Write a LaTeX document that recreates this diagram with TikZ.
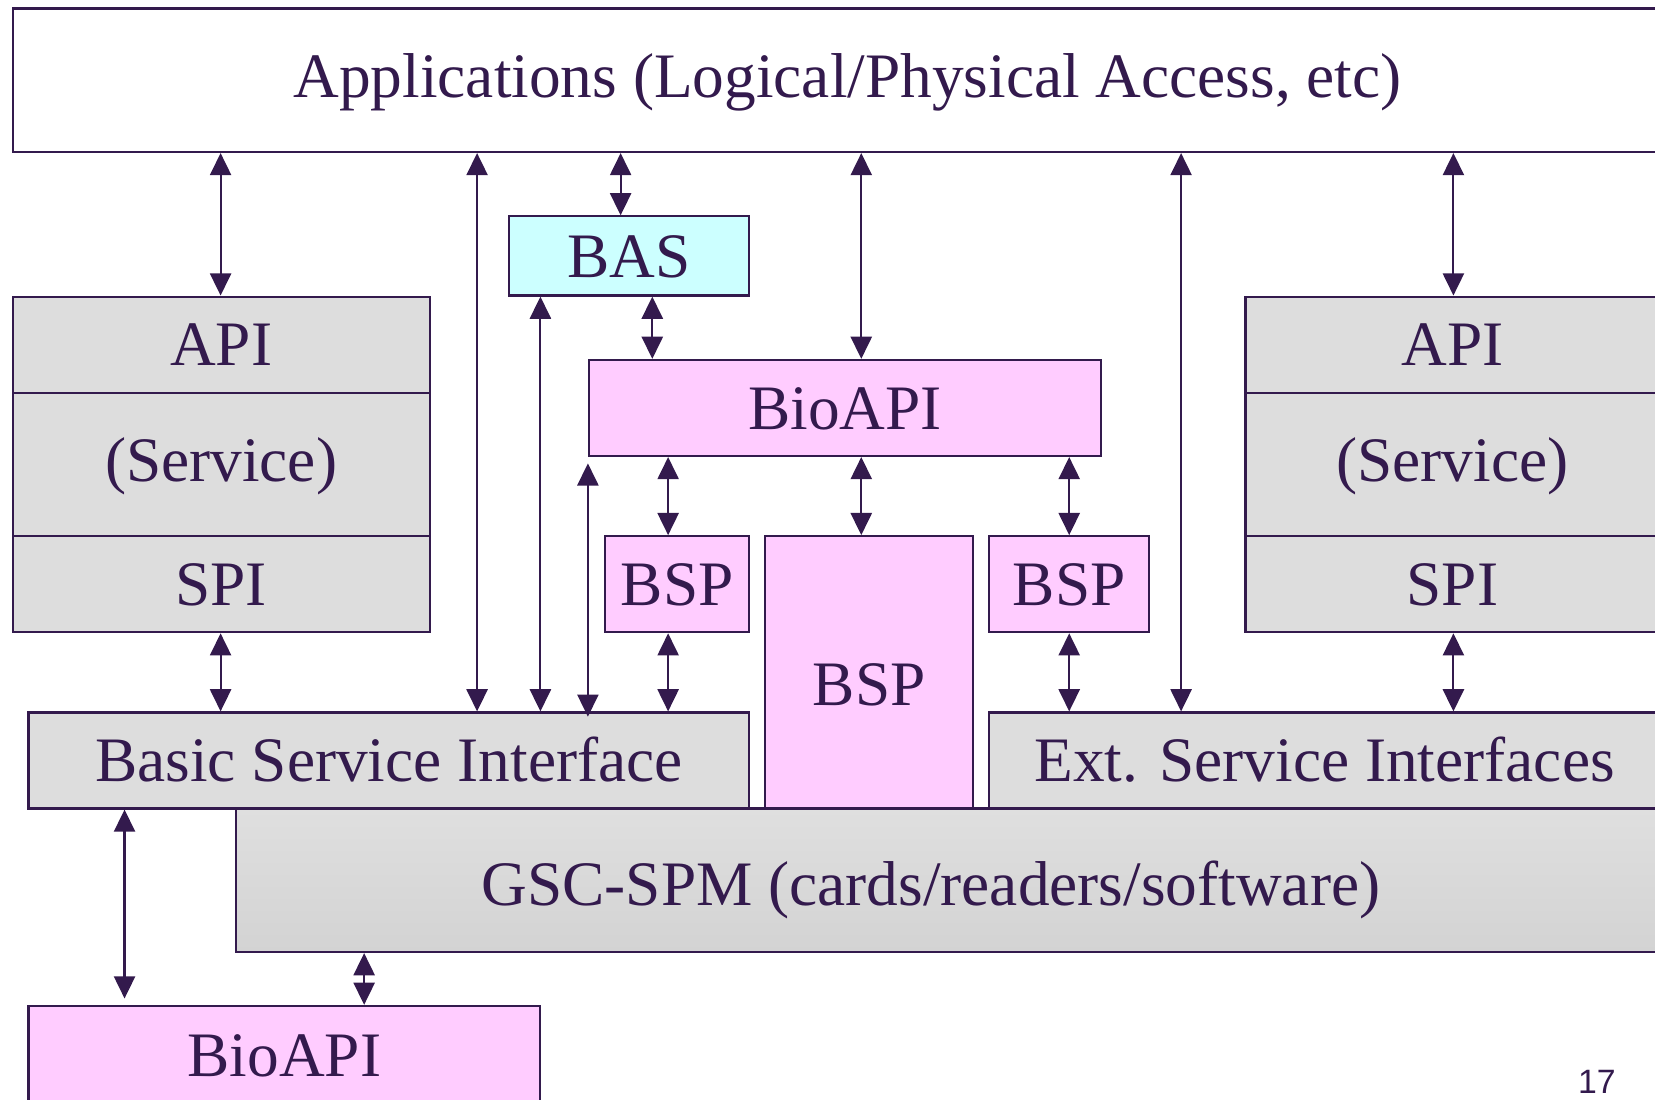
\documentclass[tikz,border=0pt]{standalone}
\usepackage{fontspec}
\setmainfont{Liberation Serif}
\newfontfamily\pagenumfont{Liberation Sans}
\usetikzlibrary{arrows.meta}
\definecolor{ink}{HTML}{331A4D}
\definecolor{boxgray}{HTML}{DDDDDD}
\definecolor{gsctop}{HTML}{DFDFDF}
\definecolor{gscbottom}{HTML}{D3D3D3}
\definecolor{biopink}{HTML}{FFCCFF}
\definecolor{bascyan}{HTML}{CCFFFF}
\begin{document}
\begin{tikzpicture}[x=1pt,y=-1pt,
  % a box given by its left, top, right and bottom edges
  span/.style n args={4}{at={({(#1+#3)/2},{(#2+#4)/2})},
    minimum width={#3-#1}, minimum height={#4-#2}},
  layer/.style={draw=ink, line width=2pt, inner sep=0pt, text=ink,
    font=\fontsize{60pt}{66pt}\selectfont, text height=40pt, text depth=0pt},
  whitebox/.style={layer, fill=white},
  graybox/.style={layer, fill=boxgray},
  pinkbox/.style={layer, fill=biopink},
  cyanbox/.style={layer, fill=bascyan},
  caption/.style={inner sep=0pt, text=ink,
    font=\fontsize{60pt}{66pt}\selectfont, text height=40pt, text depth=0pt},
  link/.style={draw=ink, line width=2pt, >={Triangle[length=21pt,width=20pt]}, <->}
]
\useasboundingbox (0,0) rectangle (1568,1042);
\clip (0,0) rectangle (1568,1042);

% applications layer
\node[whitebox, text depth=8pt, span={12}{8}{1594}{144}] (apps)
  {Applications (Logical/Physical Access, etc)};

% left service stack
\node[graybox, span={12}{281}{407}{372}] (api1) {API};
\node[graybox, text depth=8pt, span={12}{372}{407}{508}] (svc1) {(Service)};
\node[graybox, span={12}{508}{407}{599}] (spi1) {SPI};

% right service stack
\node[graybox, span={1180}{281}{1572}{372}] (api2) {API};
\node[graybox, text depth=8pt, span={1180}{372}{1572}{508}] (svc2) {(Service)};
\node[graybox, span={1180}{508}{1572}{599}] (spi2) {SPI};

% biometric components
\node[cyanbox, span={482}{205}{710}{280}] (bas) {BAS};
\node[pinkbox, span={558}{341}{1043}{432}] (bioapi) {BioAPI};
\node[pinkbox, span={573}{508}{710}{599}] (bspa) {BSP};
\node[pinkbox, text height=62pt, span={725}{508}{922}{766}] (bspb) {BSP};
\node[pinkbox, span={937}{508}{1089}{599}] (bspc) {BSP};

% service interfaces
\node[graybox, span={27}{675}{710}{766}] (bsi) {Basic Service Interface};
\node[graybox, span={937}{675}{1573}{766}] (esi) {Ext. Service Interfaces};

% card / reader layer
\node[layer, top color=gsctop, bottom color=gscbottom, span={224}{766}{1600}{902}] (gsc) {};
\node[caption] (gsctext) at (882,838) {GSC-SPM (cards/readers/software)};

% lower BioAPI
\node[pinkbox, span={27}{953}{512}{1047}] (bioapi2) {BioAPI};

% page number
\node[inner sep=0pt, anchor=base, text=ink, font=\pagenumfont\fontsize{32pt}{36pt}\selectfont]
  (pagenum) at (1513,1036) {17};

% helper points for the offset connectors
\coordinate (sideTop) at ([yshift=-6pt]bioapi.south west);
\coordinate (sideBot) at (sideTop |- bsi.north);
\coordinate (lowLeft) at ([yshift=6pt]bioapi2.north west);

% connectors from the applications layer
\draw[link] (209,0 |- apps.south) -- (209,0 |- api1.north);
\draw[link] (452,0 |- apps.south) -- (452,0 |- bsi.north);
\draw[link] (588,0 |- apps.south) -- (588,0 |- bas.north);
\draw[link] (816,0 |- apps.south) -- (816,0 |- bioapi.north);
\draw[link] (1119,0 |- apps.south) -- (1119,0 |- esi.north);
\draw[link] (1377,0 |- apps.south) -- (1377,0 |- api2.north);

% connectors from BAS
\draw[link] (512,0 |- bas.south) -- (512,0 |- bsi.north);
\draw[link] (618,0 |- bas.south) -- (618,0 |- bioapi.north);

% connectors from BioAPI
\draw[link] (sideTop) -- ([yshift=-5pt]sideBot);
\draw[link] (633,0 |- bioapi.south) -- (633,0 |- bspa.north);
\draw[link] (816,0 |- bioapi.south) -- (816,0 |- bspb.north);
\draw[link] (1013,0 |- bioapi.south) -- (1013,0 |- bspc.north);

% connectors down to the service interfaces
\draw[link] (209,0 |- spi1.south) -- (209,0 |- bsi.north);
\draw[link] (633,0 |- bspa.south) -- (633,0 |- bsi.north);
\draw[link] (1013,0 |- bspc.south) -- (1013,0 |- esi.north);
\draw[link] (1377,0 |- spi2.south) -- (1377,0 |- esi.north);

% connectors to the lower BioAPI
\draw[link] (118,0 |- bsi.south) -- (118,0 |- lowLeft);
\draw[link] (345,0 |- gsc.south) -- (345,0 |- bioapi2.north);
\end{tikzpicture}
\end{document}
